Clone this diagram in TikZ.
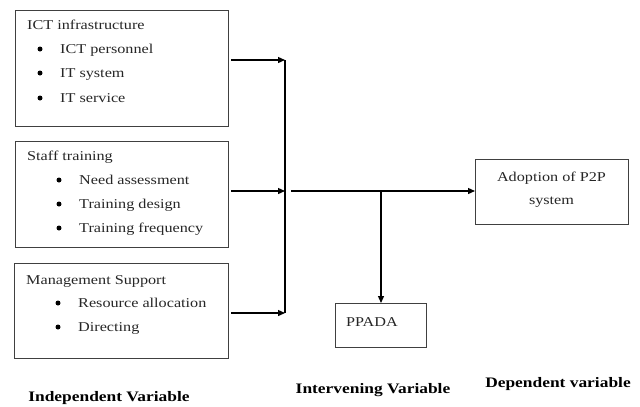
\documentclass[tikz,border=0pt]{standalone}
\usepackage{fontspec}
\setmainfont[FakeStretch=1.2]{Liberation Serif}
\usetikzlibrary{arrows.meta}
\begin{document}
\begin{tikzpicture}[x=1pt,y=-1pt,
  box/.style={draw=black!75,line width=1.4pt,inner sep=0pt,anchor=north west},
  txt/.style={anchor=base west,inner sep=0pt,text=black!85,font=\fontsize{13.5}{15}\selectfont},
  bul/.style={circle,fill=black,inner sep=0pt,minimum size=5pt},
  lbl/.style={anchor=base,inner sep=0pt,font=\fontsize{14.5}{16}\selectfont\bfseries},
  conn/.style={line width=1.3pt,-{Triangle[length=7pt,width=6pt]}},
  plain/.style={line width=1.3pt}]
\useasboundingbox (0,0) rectangle (640,407);
% boxes
\node[box,minimum width=213pt,minimum height=116pt] (b1) at (15,10) {};
\node[box,minimum width=213pt,minimum height=106pt] (b2) at (15,141) {};
\node[box,minimum width=214pt,minimum height=95pt] (b3) at (14,263) {};
\node[box,minimum width=153pt,minimum height=65pt] (dep) at (475,159) {};
\node[box,minimum width=91pt,minimum height=44pt] (ppada) at (335,303) {};
% box 1 text
\node[txt] (t1) at (27,29) {ICT infrastructure};
\node[bul] (t1b1) at (40,49) {};
\node[txt] (t1i1) at (60,53) {ICT personnel};
\node[bul] (t1b2) at (40,73) {};
\node[txt] (t1i2) at (60,77) {IT system};
\node[bul] (t1b3) at (40,98) {};
\node[txt] (t1i3) at (60,102) {IT service};
% box 2 text
\node[txt] (t2) at (27,160) {Staff training};
\node[bul] (t2b1) at (59,180) {};
\node[txt] (t2i1) at (79,184) {Need assessment};
\node[bul] (t2b2) at (59,204) {};
\node[txt] (t2i2) at (79,208) {Training  design};
\node[bul] (t2b3) at (59,228) {};
\node[txt] (t2i3) at (79,232) {Training  frequency};
% box 3 text
\node[txt] (t3) at (26,284) {Management  Support};
\node[bul] (t3b1) at (58,303) {};
\node[txt] (t3i1) at (78,307) {Resource  allocation};
\node[bul] (t3b2) at (58,327) {};
\node[txt] (t3i2) at (78,331) {Directing};
% dependent text
\node[txt,anchor=base] (d1) at (551.5,181) {Adoption  of  P2P};
\node[txt,anchor=base] (d2) at (551.5,204) {system};
\node[txt] (p1) at (346,326) {PPADA};
% labels
\node[lbl] (l1) at (109,401) {Independent  Variable};
\node[lbl] (l2) at (373,393) {Intervening  Variable};
\node[lbl] (l3) at (558,387) {Dependent  variable};
% connectors
\coordinate (v1) at (285,60);
\coordinate (v2) at (285,191);
\coordinate (v3) at (285,313);
\coordinate (h0) at (291,191);
\coordinate (br) at (381,191);
\draw[conn] (231,60) -- (v1);
\draw[conn] (231,191) -- (v2);
\draw[conn] (231,313) -- (v3);
\draw[plain] (v1) -- (v3);
\draw[conn] (h0) -- (dep.west |- h0);
\draw[conn] (br) -- (br |- ppada.north);
\end{tikzpicture}
\end{document}
